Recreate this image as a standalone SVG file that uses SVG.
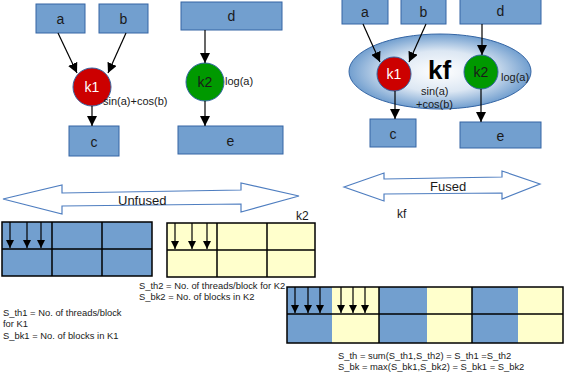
<svg xmlns="http://www.w3.org/2000/svg" width="564" height="374" viewBox="0 0 564 374">
  <defs>
    <marker id="ah" viewBox="0 0 10 10" refX="10" refY="5" markerWidth="10" markerHeight="10" markerUnits="userSpaceOnUse" orient="auto">
      <path d="M0,0 L10,5 L0,10 Z" fill="#000"/>
    </marker>
    <marker id="th" viewBox="0 0 10 10" refX="10" refY="5" markerWidth="12" markerHeight="8" markerUnits="userSpaceOnUse" orient="auto">
      <path d="M0,0 L10,5 L0,10 Z" fill="#000"/>
    </marker>
    <radialGradient id="glow" cx="0.5" cy="0.5" r="0.5">
      <stop offset="0" stop-color="#ffffff"/>
      <stop offset="0.55" stop-color="#dce7f3"/>
      <stop offset="1" stop-color="#729fcf"/>
    </radialGradient>
    <style>
      .box { fill: #729fcf; stroke: #3465a4; stroke-width: 1; }
      .lbl { font-family: "Liberation Sans", Arial, sans-serif; font-size: 14px; fill: #1a1a1a; text-anchor: middle; }
      .note { font-family: "Liberation Sans", Arial, sans-serif; font-size: 11px; fill: #1a1a1a; }
      .small { font-family: "Liberation Sans", Arial, sans-serif; font-size: 9.4px; fill: #1a1a1a; }
      .edge { stroke: #000; stroke-width: 1.2; fill: none; marker-end: url(#ah); }
      .thr { stroke: #000; stroke-width: 1.2; fill: none; marker-end: url(#th); }
      .grid { stroke: #000; stroke-width: 1.5; fill: none; }
      .band { fill: none; stroke: #4f7ec0; stroke-width: 1.2; }
      .blue { fill: #729fcf; }
      .yel { fill: #ffffcc; }
    </style>
  </defs>

  <!-- unfused kernels -->
  <g id="u-a"><rect class="box" x="36" y="4" width="49" height="29"/><text class="lbl" x="60.5" y="24">a</text></g>
  <g id="u-b"><rect class="box" x="99" y="4" width="49" height="29"/><text class="lbl" x="123.5" y="24">b</text></g>
  <g id="u-d"><rect class="box" x="181" y="2" width="101" height="28"/><text class="lbl" x="231.5" y="21">d</text></g>
  <g id="u-k1"><circle cx="92" cy="87" r="19" fill="#cc0000" stroke="#3465a4" stroke-width="1"/><text class="lbl" x="92" y="92" style="fill:#fff">k1</text>
    <text class="note" x="103" y="105">sin(a)+cos(b)</text></g>
  <g id="u-k2"><circle cx="205" cy="82" r="19" fill="#009900" stroke="#3465a4" stroke-width="1"/><text class="lbl" x="205" y="87">k2</text>
    <text class="note" x="225" y="85">log(a)</text></g>
  <g id="u-c"><rect class="box" x="69" y="126" width="50" height="30"/><text class="lbl" x="94" y="147">c</text></g>
  <g id="u-e"><rect class="box" x="178" y="126" width="105" height="28"/><text class="lbl" x="230.5" y="146">e</text></g>

  <!-- fused kernel -->
  <g id="f-kf">
    <ellipse cx="440" cy="71.5" rx="91" ry="37.5" fill="url(#glow)" stroke="#3465a4" stroke-width="1"/>
    <text x="428" y="79" font-family="Liberation Sans, Arial, sans-serif" font-size="26" font-weight="bold" fill="#000">kf</text>
    <text class="note" x="421" y="95">sin(a)</text>
    <text class="note" x="416" y="108">+cos(b)</text>
  </g>
  <g id="f-a"><rect class="box" x="342" y="-2" width="46" height="26"/><text class="lbl" x="365" y="17">a</text></g>
  <g id="f-b"><rect class="box" x="401" y="-2" width="45" height="26"/><text class="lbl" x="423.5" y="17">b</text></g>
  <g id="f-d"><rect class="box" x="460" y="-2" width="81" height="26"/><text class="lbl" x="500.5" y="16">d</text></g>
  <g id="f-k1"><circle cx="394" cy="74" r="17" fill="#cc0000" stroke="#3465a4" stroke-width="1"/><text class="lbl" x="394" y="79" style="fill:#fff">k1</text></g>
  <g id="f-k2"><circle cx="481" cy="72" r="17" fill="#009900" stroke="#3465a4" stroke-width="1"/><text class="lbl" x="481" y="77">k2</text>
    <text class="note" x="501" y="81">log(a)</text></g>
  <g id="f-c"><rect class="box" x="370" y="119" width="46" height="28"/><text class="lbl" x="393" y="139">c</text></g>
  <g id="f-e"><rect class="box" x="460" y="122" width="81" height="26"/><text class="lbl" x="500.5" y="141">e</text></g>

  <!-- connectors -->
  <g id="connectors">
    <line class="edge" x1="58" y1="33" x2="77" y2="73"/>
    <line class="edge" x1="126" y1="33" x2="108" y2="73"/>
    <line class="edge" x1="92" y1="106" x2="92" y2="126"/>
    <line class="edge" x1="205" y1="30" x2="205" y2="63"/>
    <line class="edge" x1="205" y1="101" x2="205" y2="126"/>
    <line class="edge" x1="363" y1="24" x2="380" y2="62"/>
    <line class="edge" x1="426" y1="24" x2="409" y2="62"/>
    <line class="edge" x1="482" y1="24" x2="482" y2="55"/>
    <line class="edge" x1="395" y1="91" x2="395" y2="119"/>
    <line class="edge" x1="481" y1="89" x2="481" y2="122"/>
  </g>

  <!-- double-headed banners -->
  <g id="unfused-band">
    <path class="band" d="M3,199 L62,185 L62,193 L241,190 L241,183 L299,196 L241,212 L241,204 L62,206 L62,214 Z"/>
    <text class="note" x="118" y="205" style="font-size:13px">Unfused</text>
  </g>
  <g id="fused-band">
    <path class="band" d="M344,187 L384,173 L384,179 L502,177 L502,171 L540,184 L502,199 L502,193 L384,194 L384,201 Z"/>
    <text class="note" x="430" y="191" style="font-size:13px">Fused</text>
    <text class="note" x="397" y="218" style="font-size:12px">kf</text>
  </g>

  <!-- thread-block grid for k1 -->
  <g id="grid-k1">
    <rect class="blue" x="2" y="222" width="150" height="54"/>
    <rect class="grid" x="2" y="222" width="150" height="54"/>
    <line class="grid" x1="2" y1="249" x2="152" y2="249"/>
    <line class="grid" x1="52" y1="222" x2="52" y2="276"/>
    <line class="grid" x1="102" y1="222" x2="102" y2="276"/>
    <line class="thr" x1="10" y1="222" x2="10" y2="248"/>
    <line class="thr" x1="27" y1="222" x2="27" y2="248"/>
    <line class="thr" x1="41" y1="222" x2="41" y2="248"/>
  </g>

  <!-- thread-block grid for k2 -->
  <g id="grid-k2">
    <rect class="yel" x="167" y="223" width="148" height="54"/>
    <rect class="grid" x="167" y="223" width="148" height="54"/>
    <line class="grid" x1="167" y1="250" x2="315" y2="250"/>
    <line class="grid" x1="217" y1="223" x2="217" y2="277"/>
    <line class="grid" x1="267" y1="223" x2="267" y2="277"/>
    <line class="thr" x1="175" y1="223" x2="175" y2="249"/>
    <line class="thr" x1="192" y1="223" x2="192" y2="249"/>
    <line class="thr" x1="207" y1="223" x2="207" y2="249"/>
    <text class="note" x="296" y="220" style="font-size:12px">k2</text>
  </g>

  <!-- thread-block grid for kf -->
  <g id="grid-kf">
    <rect class="blue" x="287" y="287" width="45" height="56"/>
    <rect class="yel" x="332" y="287" width="47" height="56"/>
    <rect class="blue" x="379" y="287" width="48" height="56"/>
    <rect class="yel" x="427" y="287" width="45" height="56"/>
    <rect class="blue" x="472" y="287" width="46" height="56"/>
    <rect class="yel" x="518" y="287" width="45" height="56"/>
    <rect class="grid" x="287" y="287" width="276" height="56"/>
    <line class="grid" x1="287" y1="314" x2="563" y2="314"/>
    <line class="grid" x1="379" y1="287" x2="379" y2="343"/>
    <line class="grid" x1="472" y1="287" x2="472" y2="343"/>
    <line class="thr" x1="295" y1="287" x2="295" y2="313"/>
    <line class="thr" x1="308" y1="287" x2="308" y2="313"/>
    <line class="thr" x1="320" y1="287" x2="320" y2="313"/>
    <line class="thr" x1="341" y1="287" x2="341" y2="313"/>
    <line class="thr" x1="353" y1="287" x2="353" y2="313"/>
    <line class="thr" x1="365" y1="287" x2="365" y2="313"/>
  </g>

  <!-- launch configuration notes -->
  <g id="notes">
    <text class="small" x="139" y="289">S_th2 = No. of threads/block for K2</text>
    <text class="small" x="139" y="300">S_bk2 = No. of blocks in K2</text>
    <text class="small" x="3" y="316">S_th1 = No. of threads/block</text>
    <text class="small" x="3" y="327">for K1</text>
    <text class="small" x="3" y="339">S_bk1 = No. of blocks in K1</text>
    <text class="small" x="338" y="359">S_th = sum(S_th1,S_th2) = S_th1 =S_th2</text>
    <text class="small" x="338" y="370">S_bk = max(S_bk1,S_bk2) = S_bk1 = S_bk2</text>
  </g>
</svg>
